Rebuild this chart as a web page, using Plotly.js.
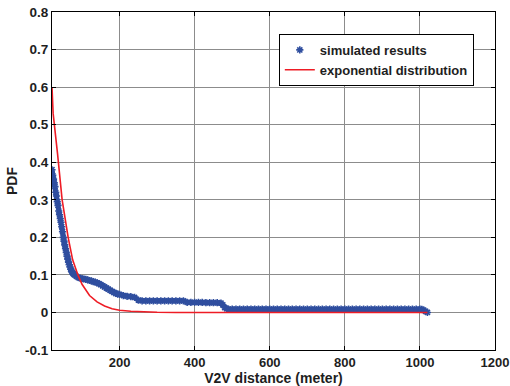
<!DOCTYPE html>
<html>
<head>
<meta charset="utf-8">
<script src="https://cdn.plot.ly/plotly-3.0.1.min.js"></script>
<style>html,body{margin:0;padding:0;background:#fff;}#chart{width:510px;height:386px;}</style>
</head>
<body>
<div id="chart"></div>
<script>
// Simulated results (distance in meters, PDF)
var simX = [20,22,24,26,28,30,32,34,36,38,40,42,44,46,48,50,52,54,56,58,60,62,64,66,68,70,72,74,76,78,80,85,90,95,100,105,110,115,120,125,130,135,140,145,150,155,160,165,170,175,180,185,190,195,200,210,220,230,240,250,260,270,280,290,300,310,320,330,340,350,360,370,380,390,400,410,420,430,440,450,460,470,475,480,485,490,500,510,520,530,540,550,560,570,580,590,600,610,620,630,640,650,660,670,680,690,700,710,720,730,740,750,760,770,780,790,800,810,820,830,840,850,860,870,880,890,900,910,920,930,940,950,960,970,980,990,1000,1005,1010,1015,1020];
var simY = [0.38,0.365,0.355,0.345,0.335,0.32,0.31,0.295,0.285,0.27,0.26,0.25,0.24,0.228,0.215,0.20,0.19,0.18,0.17,0.16,0.15,0.142,0.134,0.127,0.121,0.115,0.111,0.107,0.104,0.102,0.100,0.096,0.093,0.091,0.090,0.089,0.088,0.087,0.085,0.084,0.082,0.081,0.079,0.077,0.074,0.071,0.068,0.065,0.062,0.059,0.056,0.053,0.051,0.049,0.048,0.045,0.043,0.042,0.040,0.033,0.031,0.031,0.031,0.031,0.031,0.031,0.031,0.031,0.031,0.031,0.031,0.031,0.027,0.027,0.027,0.027,0.027,0.026,0.026,0.026,0.026,0.025,0.020,0.013,0.010,0.009,0.009,0.009,0.009,0.009,0.009,0.009,0.009,0.009,0.009,0.009,0.009,0.009,0.009,0.009,0.009,0.009,0.009,0.009,0.009,0.009,0.009,0.009,0.009,0.009,0.009,0.009,0.009,0.009,0.009,0.009,0.009,0.009,0.009,0.009,0.009,0.009,0.009,0.009,0.009,0.009,0.009,0.009,0.009,0.009,0.009,0.009,0.009,0.009,0.009,0.009,0.009,0.008,0.006,0.003,0.000];
// Exponential distribution fit
var expX = [20,23,35,47,55,63,75,89,100,120,140,160,180,200,230,260,300,350,500,700,900,1020];
var expY = [0.60,0.53,0.42,0.30,0.25,0.20,0.14,0.10,0.075,0.045,0.028,0.017,0.010,0.006,0.003,0.0015,0.0005,0,0,0,0,0];
// Axis ticks
var xTicks = [200,400,600,800,1000,1200];
var yTicks = [-0.1,0,0.1,0.2,0.3,0.4,0.5,0.6,0.7,0.8];
var yTickText = ["-0.1","0","0.1","0.2","0.3","0.4","0.5","0.6","0.7","0.8"];

var FAM = "Liberation Sans, Arial, sans-serif";
var boldFont = function (s) { return {family: FAM, size: s, color: "#1e1e1e", weight: 700}; };
var BLUE = "#2F4E9F";

var traces = [
  {x: simX, y: simY, type: "scatter", mode: "lines", showlegend: false, hoverinfo: "skip",
   line: {color: BLUE, width: 5}},
  {x: simX, y: simY, type: "scatter", mode: "markers", name: "simulated results",
   marker: {symbol: "asterisk-open", size: 6, color: BLUE, line: {color: BLUE, width: 1.6}}},
  {x: expX, y: expY, type: "scatter", mode: "lines", name: "exponential distribution",
   line: {color: "#EE1C25", width: 1.6}}
];

var axisCommon = {showline: true, linecolor: "#000", linewidth: 1, mirror: "ticks",
  ticks: "inside", ticklen: 4, tickcolor: "#000", showgrid: true, gridcolor: "#8c8c8c", gridwidth: 1,
  zeroline: false};

var layout = {
  width: 510, height: 386,
  margin: {l: 52, r: 15, t: 12, b: 36},
  paper_bgcolor: "#fff", plot_bgcolor: "#fff",
  font: boldFont(13),
  showlegend: true,
  xaxis: Object.assign({}, axisCommon, {range: [20, 1200], tickvals: xTicks, tickfont: boldFont(13),
    title: {text: "V2V distance (meter)", standoff: 1, font: boldFont(14)}}),
  yaxis: Object.assign({}, axisCommon, {range: [-0.1, 0.8], tickvals: yTicks, ticktext: yTickText,
    tickfont: boldFont(13.5),
    title: {text: "PDF", standoff: 4, font: boldFont(14)}}),
  legend: {x: 0.512, y: 0.935, xanchor: "left", yanchor: "top", bgcolor: "#fff",
    bordercolor: "#000", borderwidth: 1, font: boldFont(13),
    tracegroupgap: 0, itemwidth: 30}
};

Plotly.newPlot("chart", traces, layout, {displayModeBar: false, staticPlot: true});
</script>
</body>
</html>
